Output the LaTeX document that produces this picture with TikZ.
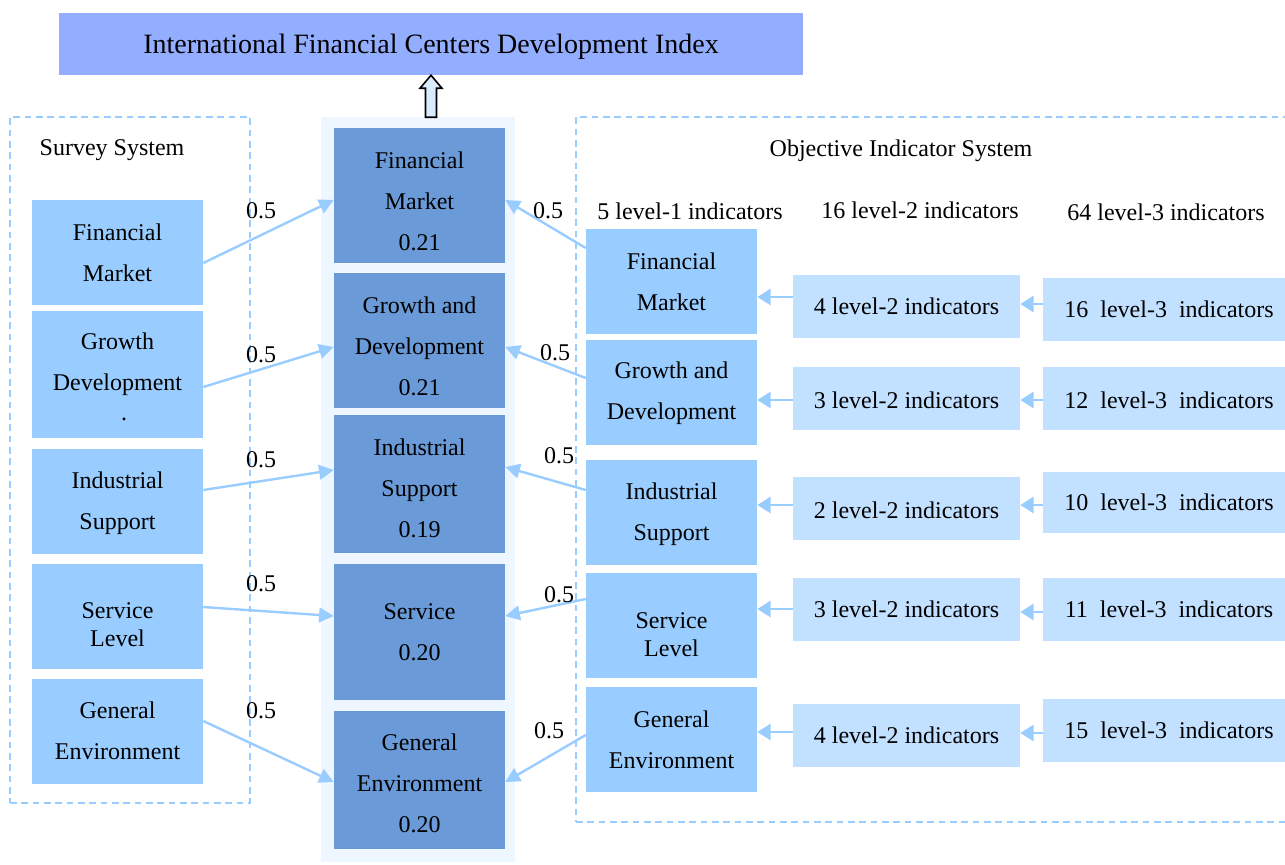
\documentclass[tikz,border=0pt]{standalone}
\usepackage{fontspec}
\setmainfont{Liberation Serif}
\usetikzlibrary{arrows.meta,calc}

\definecolor{titlefill}{HTML}{94AEFF}
\definecolor{panelfill}{HTML}{EEF6FF}
\definecolor{corefill}{HTML}{6A9BD8}
\definecolor{midfill}{HTML}{99CCFF}
\definecolor{lightfill}{HTML}{C2E0FF}
\definecolor{linkblue}{HTML}{99CCFF}
\definecolor{uparrowfill}{HTML}{D9ECFF}

\tikzset{
  txt/.style={font=\fontsize{18}{30.75}\selectfont, align=center, inner sep=0pt, text=black},
  tighttxt/.style={font=\fontsize{18}{21}\selectfont, align=center, inner sep=0pt, text=black},
  titletxt/.style={font=\fontsize{21}{25}\selectfont, inner sep=0pt},
  plainbox/.style={rectangle, draw=none, inner sep=0pt},
  titlebox/.style={plainbox, fill=titlefill},
  panelbox/.style={plainbox, fill=panelfill},
  corebox/.style={plainbox, fill=corefill},
  midbox/.style={plainbox, fill=midfill},
  lightbox/.style={plainbox, fill=lightfill},
  framebox/.style={rectangle, draw=linkblue, line width=1.5pt, dash pattern=on 5pt off 3.5pt, inner sep=0pt},
  link/.style={draw=linkblue, line width=1.8pt, -{Triangle[length=11pt,width=11pt]}},
  hlink/.style={draw=linkblue, line width=2pt, -{Triangle[length=10pt,width=12pt]}},
  uparrow/.style={draw=black, line width=1.2pt, fill=uparrowfill, line join=miter},
}

% \bx{style}{name}{x1}{y1}{x2}{y2}: a box given by its corners
\newcommand\bx[6]{\node[#1, minimum width={(#5-#3)*0.75pt}, minimum height={(#6-#4)*0.75pt}] (#2) at ({(#3+#5)/2},{(#4+#6)/2}) {};}
% \tx{style}{name}{x}{y}{text}
\newcommand\tx[5]{\node[#1] (#2) at (#3,#4) {#5};}
% \darr{from anchor}{to anchor}{start y}{end y}
\newcommand\darr[4]{\coordinate (ya) at (0,#3); \coordinate (yb) at (0,#4); \draw[link] (#1 |- ya) -- (#2 |- yb);}
% \harr{from node}{to node}{y}
\newcommand\harr[3]{\coordinate (hy) at (0,#3); \draw[hlink] (#1.west |- hy) -- (#2.east |- hy);}

\begin{document}
\begin{tikzpicture}[x=0.75pt, y=-0.75pt]
\useasboundingbox (0,0) rectangle (1285,864);
\clip (0,0) rectangle (1285,864);

% title
\bx{titlebox}{title}{59}{13}{803}{75}
\tx{titletxt}{titlet}{431}{46.5}{International Financial Centers Development Index}

% central weighted column
\bx{panelbox}{panel}{321}{117}{515}{862}

% dashed frames of the two systems
\bx{framebox}{leftframe}{10}{117}{250}{803}
\bx{framebox}{rightframe}{576}{117}{1300}{822}

% arrow up to the index
\draw[uparrow] (title.south) -- ++(11,13) -- ++(-5.5,0) -- ++(0,29) -- ++(-11,0) -- ++(0,-29) -- ++(-5.5,0) -- cycle;

% headings
\tx{txt}{hsurvey}{112}{150.5}{Survey System}
\tx{txt}{hobj}{901}{150.5}{Objective Indicator System}
\tx{txt}{hl1}{690}{211}{5 level-1 indicators}
\tx{txt}{hl2}{920}{210}{16 level-2 indicators}
\tx{txt}{hl3}{1166}{212}{64 level-3 indicators}

% central boxes
\bx{corebox}{cfm}{334}{128}{505}{263}
\bx{corebox}{cgd}{334}{273}{505}{408}
\bx{corebox}{cis}{334}{415}{505}{553}
\bx{corebox}{csv}{334}{564}{505}{700}
\bx{corebox}{cge}{334}{711}{505}{849}
\tx{txt}{cfmt}{419.5}{201}{Financial\\Market\\0.21}
\tx{txt}{cgdt}{419.5}{346}{Growth and\\Development\\0.21}
\tx{txt}{cist}{419.5}{488}{Industrial\\Support\\0.19}
\tx{txt}{csvt}{419.5}{632}{Service\\0.20}
\tx{txt}{cget}{419.5}{783.5}{General\\Environment\\0.20}

% survey system
\bx{midbox}{lfm}{32}{200}{203}{305}
\bx{midbox}{lgd}{32}{311}{203}{438}
\bx{midbox}{lis}{32}{449}{203}{554}
\bx{midbox}{lsl}{32}{564}{203}{669}
\bx{midbox}{lge}{32}{679}{203}{784}
\tx{txt}{lfmt}{117.5}{252.5}{Financial\\Market}
\tx{txt}{lgdt}{117.5}{364.5}{Growth\\Development}
\node[txt, anchor=base] (lgddot) at (124,420) {.};
\tx{txt}{list}{117.5}{503}{Industrial\\Support}
\tx{tighttxt}{lslt}{117.5}{625}{Service\\Level}
\tx{txt}{lget}{117.5}{731}{General\\Environment}

% level-1 indicators
\bx{midbox}{rfm}{586}{229}{757}{334}
\bx{midbox}{rgd}{586}{340}{757}{445}
\bx{midbox}{ris}{586}{460}{757}{565}
\bx{midbox}{rsl}{586}{573}{757}{678}
\bx{midbox}{rge}{586}{687}{757}{792}
\tx{txt}{rfmt}{671.5}{281.5}{Financial\\Market}
\tx{txt}{rgdt}{671.5}{393}{Growth and\\Development}
\tx{txt}{rist}{671.5}{514}{Industrial\\Support}
\tx{tighttxt}{rslt}{671.5}{634.5}{Service\\Level}
\tx{txt}{rget}{671.5}{740}{General\\Environment}

% level-2 indicators
\bx{lightbox}{afm}{793}{275}{1020}{338}
\bx{lightbox}{agd}{793}{367}{1020}{430}
\bx{lightbox}{ais}{793}{477}{1020}{540}
\bx{lightbox}{asl}{793}{578}{1020}{641}
\bx{lightbox}{age}{793}{704}{1020}{767}
\tx{txt}{afmt}{906.5}{306}{4 level-2 indicators}
\tx{txt}{agdt}{906.5}{400}{3 level-2 indicators}
\tx{txt}{aist}{906.5}{510}{2 level-2 indicators}
\tx{txt}{aslt}{906.5}{609}{3 level-2 indicators}
\tx{txt}{aget}{906.5}{735}{4 level-2 indicators}

% level-3 indicators
\bx{lightbox}{bfm}{1043}{278}{1290}{341}
\bx{lightbox}{bgd}{1043}{367}{1290}{430}
\bx{lightbox}{bis}{1043}{472}{1290}{533}
\bx{lightbox}{bsl}{1043}{578}{1290}{641}
\bx{lightbox}{bge}{1043}{699}{1290}{762}
\tx{txt}{bfmt}{1169}{309}{16\ \ level-3\ \ indicators}
\tx{txt}{bgdt}{1169}{400}{12\ \ level-3\ \ indicators}
\tx{txt}{bist}{1169}{502}{10\ \ level-3\ \ indicators}
\tx{txt}{bslt}{1169}{609}{11\ \ level-3\ \ indicators}
\tx{txt}{bget}{1169}{730}{15\ \ level-3\ \ indicators}

% survey system -> central column
\darr{lfm.east}{cfm.west}{263}{200}
\darr{lgd.east}{cgd.west}{387}{347}
\darr{lis.east}{cis.west}{490}{470}
\darr{lsl.east}{csv.west}{607}{616}
\darr{lge.east}{cge.west}{721}{782}

% objective indicators -> central column
\darr{rfm.west}{cfm.east}{248}{200}
\darr{rgd.west}{cgd.east}{378}{347}
\darr{ris.west}{cis.east}{490}{467}
\darr{rsl.west}{csv.east}{599}{616}
\darr{rge.west}{cge.east}{735}{782}

% level-2 -> level-1
\harr{afm}{rfm}{297}
\harr{agd}{rgd}{400}
\harr{ais}{ris}{505}
\harr{asl}{rsl}{609}
\harr{age}{rge}{732}

% level-3 -> level-2
\harr{bfm}{afm}{304}
\harr{bgd}{agd}{400}
\harr{bis}{ais}{505}
\harr{bsl}{asl}{612}
\harr{bge}{age}{733}

% weights
\tx{txt}{w1}{261}{211}{0.5}
\tx{txt}{w2}{261}{355}{0.5}
\tx{txt}{w3}{261}{460}{0.5}
\tx{txt}{w4}{261}{584}{0.5}
\tx{txt}{w5}{261}{711}{0.5}
\tx{txt}{w6}{548}{211}{0.5}
\tx{txt}{w7}{555}{353}{0.5}
\tx{txt}{w8}{559}{456}{0.5}
\tx{txt}{w9}{559}{595}{0.5}
\tx{txt}{w10}{549}{731}{0.5}
\end{tikzpicture}
\end{document}
